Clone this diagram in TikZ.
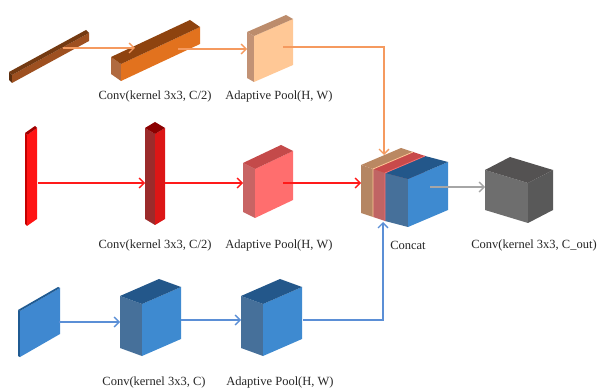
\documentclass[tikz,border=0pt]{standalone}
\usepackage{fontspec}
\setmainfont{Liberation Serif}
\usetikzlibrary{arrows.meta}

% face colours: a = side face, b = front face, t = top face
\definecolor{rusta}{HTML}{5C2E0E}\definecolor{rustb}{HTML}{9E5020}\definecolor{rustt}{HTML}{743A12}
\definecolor{oraa}{HTML}{B06A40}\definecolor{orab}{HTML}{E2721E}\definecolor{orat}{HTML}{8E430F}
\definecolor{pcha}{HTML}{C29275}\definecolor{pchb}{HTML}{FFC896}\definecolor{pcht}{HTML}{BC8C6C}
\definecolor{rdaa}{HTML}{C40000}\definecolor{rdab}{HTML}{FF1414}\definecolor{rdat}{HTML}{A00000}
\definecolor{rdba}{HTML}{9B2B2B}\definecolor{rdbb}{HTML}{DC1616}\definecolor{rdbt}{HTML}{8B0000}
\definecolor{rdca}{HTML}{C86464}\definecolor{rdcb}{HTML}{FF6E6E}\definecolor{rdct}{HTML}{C44A4A}
\definecolor{blaa}{HTML}{1F5A92}\definecolor{blab}{HTML}{3F88D0}\definecolor{blat}{HTML}{1F5A92}
\definecolor{blba}{HTML}{46709A}\definecolor{blbb}{HTML}{3E8AD0}\definecolor{blbt}{HTML}{23578A}
\definecolor{cbra}{HTML}{B58663}\definecolor{cbrb}{HTML}{B58663}\definecolor{cbrt}{HTML}{BA8862}
\definecolor{crda}{HTML}{C06464}\definecolor{crdb}{HTML}{C06464}\definecolor{crdt}{HTML}{C84A4A}
\definecolor{grya}{HTML}{6E6E6E}\definecolor{gryb}{HTML}{595959}\definecolor{gryt}{HTML}{545252}
\definecolor{orgline}{HTML}{F59A5F}
\definecolor{redline}{HTML}{FF1A1A}
\definecolor{bluline}{HTML}{5B8FD6}
\definecolor{gryline}{HTML}{A6A6A6}

% #1,#2 bottom corner, #3,#4 side vector, #5,#6 front vector, #7 height, #8 colours
\newcommand{\cuboid}[8]{%
  \fill[#8a] ({#1},{#2}) -- ++({#3},{#4}) -- ++(0,{-#7}) -- ++({-#3},{-1*#4}) -- cycle;
  \fill[#8b] ({#1+#3},{#2+#4}) -- ++({#5},{#6}) -- ++(0,{-#7}) -- ++({-#5},{-1*#6}) -- cycle;
  \fill[#8t] ({#1},{#2-#7}) -- ++({#3},{#4}) -- ++({#5},{#6}) -- ++({-#3},{-1*#4}) -- cycle;
}

\tikzset{
  lbl/.style={font=\fontsize{12.5}{14}\selectfont, text=black!85, inner sep=0pt},
  link/.style={line width=1.3pt, -{Straight Barb[length=5pt,width=10pt]}},
}

\begin{document}
\begin{tikzpicture}[x=1pt, y=-1pt]
\useasboundingbox (0,0) rectangle (600,390);

% top row
\cuboid{9}{80}{3}{3}{77}{-42}{8}{rust}
\cuboid{111}{74}{10}{7}{79}{-37}{17}{ora}
\cuboid{247}{78}{7}{4}{39}{-17}{46}{pch}

% middle row
\cuboid{25}{224}{2}{2}{10}{-7}{91}{rda}
\cuboid{145}{219}{10}{6}{10}{-6}{91}{rdb}
\cuboid{243}{212}{12}{6}{38}{-18}{49}{rdc}

% bottom row
\cuboid{18}{356}{2}{1}{40}{-23}{46}{bla}
\cuboid{120}{348}{22}{8}{39}{-17}{52}{blb}
\cuboid{241}{348}{22}{8}{39}{-17}{52}{blb}

% concat
\cuboid{361}{213}{12}{4}{40}{-17}{48}{cbr}
\cuboid{373}{217}{12}{4}{40}{-17}{48}{crd}
\draw[pchb, line width=0.8pt] (373,217) -- (373,169) -- (413,152);
\cuboid{385}{221}{23}{6}{40}{-17}{48}{blb}
\draw[rdcb, line width=0.8pt] (385,221) -- (385,173) -- (425,156);

% output
\cuboid{485}{210}{43}{13}{25}{-13}{40}{gry}

% ports
\coordinate (bar1-out) at (63,48);
\coordinate (bar2-in) at (135,48);
\coordinate (bar2-out) at (178,49);
\coordinate (pool1-in) at (247,49);
\coordinate (pool1-out) at (283,47);
\coordinate (rplate-out) at (38,183);
\coordinate (rbar-in) at (145,183);
\coordinate (rbar-out) at (165,183);
\coordinate (rpool-in) at (243,183);
\coordinate (rpool-out) at (283,183);
\coordinate (bplate-out) at (59,322);
\coordinate (bcube1-in) at (120,322);
\coordinate (bcube1-out) at (181,320);
\coordinate (bcube2-in) at (241,320);
\coordinate (bcube2-out) at (303,320);
\coordinate (cat-top) at (384,155);
\coordinate (cat-left) at (361,183);
\coordinate (cat-bot) at (383,222);
\coordinate (cat-out) at (430,187);
\coordinate (out-in) at (485,187);

\draw[link, orgline] (bar1-out) -- (bar2-in);
\draw[link, orgline] (bar2-out) -- (pool1-in);
\draw[link, orgline] (pool1-out) -| (cat-top);

\draw[link, redline] (rplate-out) -- (rbar-in);
\draw[link, redline] (rbar-out) -- (rpool-in);
\draw[link, redline] (rpool-out) -- (cat-left);

\draw[link, bluline] (bplate-out) -- (bcube1-in);
\draw[link, bluline] (bcube1-out) -- (bcube2-in);
\draw[link, bluline] (bcube2-out) -| (cat-bot);

\draw[link, gryline] (cat-out) -- (out-in);

% labels
\node[lbl] (lconv1) at (155,96) {Conv(kernel 3x3, C/2)};
\node[lbl] (lpool1) at (279,96) {Adaptive Pool(H, W)};
\node[lbl] (lconv2) at (155,245) {Conv(kernel 3x3, C/2)};
\node[lbl] (lpool2) at (279,245) {Adaptive Pool(H, W)};
\node[lbl] (lcat) at (408,245) {Concat};
\node[lbl] (lout) at (534,245) {Conv(kernel 3x3, C\_out)};
\node[lbl] (lconv3) at (154,382) {Conv(kernel 3x3, C)};
\node[lbl] (lpool3) at (280,382) {Adaptive Pool(H, W)};

\end{tikzpicture}
\end{document}
